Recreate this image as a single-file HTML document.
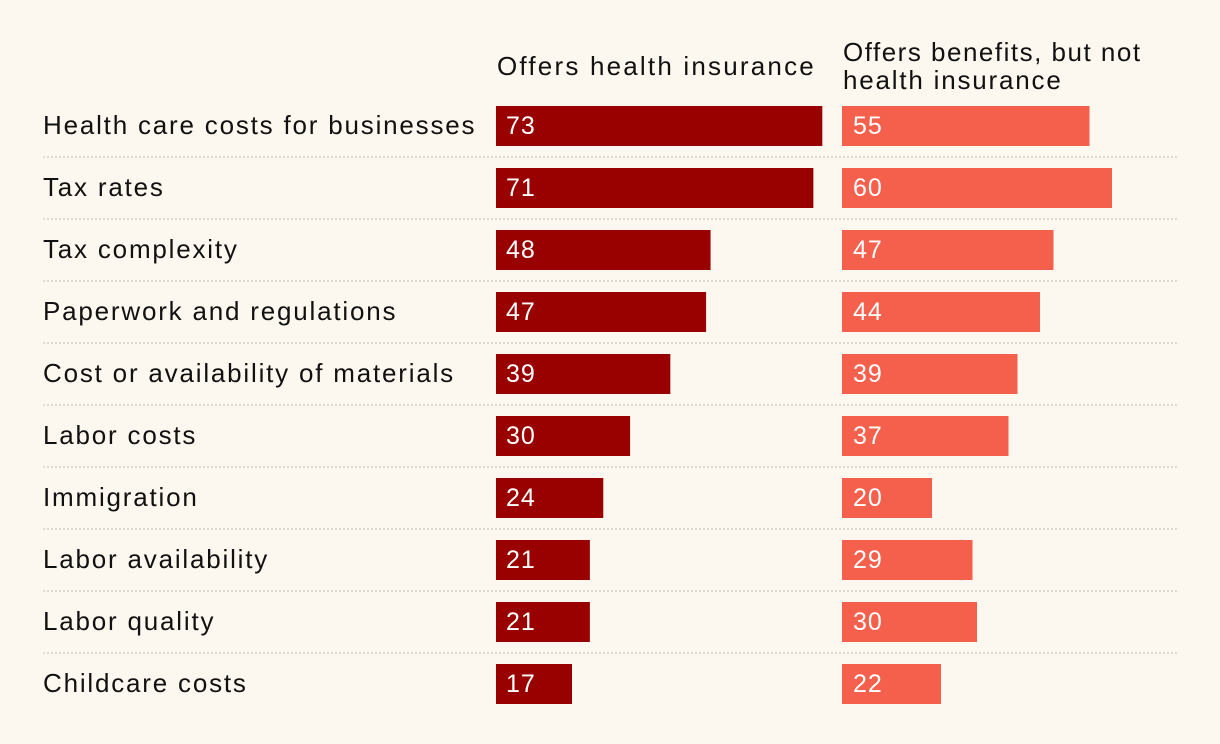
<!DOCTYPE html>
<html><head><meta charset="utf-8"><style>
body{margin:0;background:#fdf8ef;}
svg{display:block;font-family:"Liberation Sans",sans-serif;}
</style></head><body>
<svg id="chart" width="1220" height="744" xmlns="http://www.w3.org/2000/svg">
<rect width="1220" height="744" fill="#fdf8ef"/>
<text x="497" y="75" font-size="26" letter-spacing="2.2" fill="#111">Offers health insurance</text>
<text x="843" y="61" font-size="26" letter-spacing="1.5" fill="#111">Offers benefits, but not</text>
<text x="843" y="89" font-size="26" letter-spacing="1.8" fill="#111">health insurance</text>
<g id="rows"></g>
</svg>
<script>
const categories=["Health care costs for businesses","Tax rates","Tax complexity","Paperwork and regulations","Cost or availability of materials","Labor costs","Immigration","Labor availability","Labor quality","Childcare costs"];
const healthValues=[73,71,48,47,39,30,24,21,21,17];
const benefitsValues=[55,60,47,44,39,37,20,29,30,22];
const NS="http://www.w3.org/2000/svg";
const g=document.getElementById('rows');
const x1=v=>v*4.47, x2=v=>v*4.5;
const rowY=i=>106+i*62;
function mk(t,a){const e=document.createElementNS(NS,t);for(const k in a)e.setAttribute(k,a[k]);g.appendChild(e);return e;}
categories.forEach((c,i)=>{
  const y=rowY(i);
  let t=mk('text',{x:43,y:y+28,'font-size':26,'letter-spacing':1.8,fill:'#111'});t.textContent=c;
  
  
  let b=mk('rect',{x:496,y:y,width:x1(healthValues[i]),height:40,fill:'#990000'});
  
  
  let v=mk('text',{x:506,y:y+28,'font-size':25,'letter-spacing':1,fill:'#fff'});v.textContent=healthValues[i];
  
  
  let b2=mk('rect',{x:842,y:y,width:x2(benefitsValues[i]),height:40,fill:'#f4604b'});
  
  
  let v2=mk('text',{x:853,y:y+28,'font-size':25,'letter-spacing':1,fill:'#fff'});v2.textContent=benefitsValues[i];
  
  
  if(i<categories.length-1){
    let l=mk('line',{x1:43,x2:1178,y1:y+51,y2:y+51,stroke:'#bbb','stroke-width':1,'stroke-dasharray':'2,2'});
    
    
  }
});
</script>
</body></html>
